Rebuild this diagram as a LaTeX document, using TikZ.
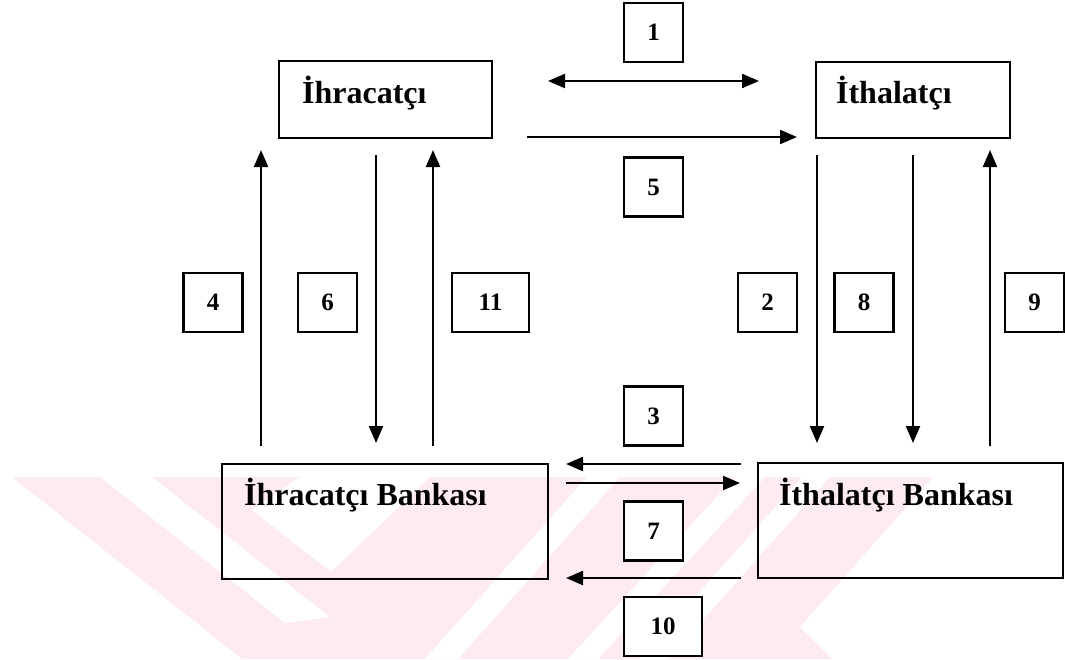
\documentclass[tikz,border=0pt]{standalone}
\usepackage{fontspec}
\setmainfont{Liberation Serif}
\usetikzlibrary{arrows.meta}
\definecolor{wm}{RGB}{253,235,239}
\begin{document}
\begin{tikzpicture}[x=1pt,y=-1pt,
  line width=2.2pt,
  numbox/.style={draw,fill=white,minimum width=59pt,minimum height=59pt,inner sep=0pt,
    font=\fontsize{25}{29}\selectfont\bfseries},
  bigbox/.style={draw,inner sep=0pt},
  lbl/.style={anchor=base west,inner sep=0pt,font=\fontsize{32}{37}\selectfont\bfseries},
  arr/.style={-{Triangle[length=17pt,width=14pt]}},
  darr/.style={{Triangle[length=17pt,width=14pt]}-{Triangle[length=17pt,width=14pt]}}]
\useasboundingbox (0,0) rectangle (1065,659);
% faint background watermark
\fill[wm] (12,477) -- (933,477) -- (800,627) -- (832,659) -- (242,659) -- cycle;
\fill[white] (100,477) -- (152,477) -- (330,617) -- (285,623) -- cycle;
\fill[white] (252,510) -- (331,572) -- (430,477) -- (300,477) -- cycle;
\fill[white] (425,659) -- (458,659) -- (620,477) -- (587,477) -- cycle;
\fill[white] (568,659) -- (598,659) -- (765,477) -- (735,477) -- cycle;
\fill[white] (640,659) -- (668,659) -- (830,477) -- (802,477) -- cycle;

% main boxes
\node[bigbox,minimum width=213pt,minimum height=77pt] (exp) at (385.5,99.5) {};
\node[bigbox,minimum width=194pt,minimum height=76pt] (imp) at (913,100) {};
\node[bigbox,minimum width=326pt,minimum height=115pt] (expb) at (385,521.5) {};
\node[bigbox,minimum width=305pt,minimum height=115pt] (impb) at (910.5,520.5) {};
\node[lbl] (expT) at (301,103) {İhracatçı};
\node[lbl] (impT) at (835,103) {İthalatçı};
\node[lbl] (expbT) at (243,505) {İhracatçı Bankası};
\node[lbl] (impbT) at (778,505) {İthalatçı Bankası};

% number boxes
\node[numbox] (n1) at (653.5,32.5) {1};
\node[numbox] (n5) at (653.5,187) {5};
\node[numbox] (n4) at (213,302.5) {4};
\node[numbox] (n6) at (327.5,302.5) {6};
\node[numbox,minimum width=77pt] (n11) at (490.5,302.5) {11};
\node[numbox] (n2) at (767.5,302.5) {2};
\node[numbox] (n8) at (864,302.5) {8};
\node[numbox] (n9) at (1034.5,302.5) {9};
\node[numbox] (n3) at (653.5,416) {3};
\node[numbox] (n7) at (653.5,531) {7};
\node[numbox,minimum width=78pt] (n10) at (663,626.5) {10};

% arrow end points
\coordinate (a1s) at (548,81);  \coordinate (a1e) at (759,81);
\coordinate (a5s) at (527,137); \coordinate (a5e) at (797,137);
\coordinate (a4s) at (261,446); \coordinate (a4e) at (261,150);
\coordinate (a6s) at (376,155); \coordinate (a6e) at (376,443);
\coordinate (a11s) at (433,446); \coordinate (a11e) at (433,150);
\coordinate (a2s) at (817,155); \coordinate (a2e) at (817,443);
\coordinate (a8s) at (913,155); \coordinate (a8e) at (913,443);
\coordinate (a9s) at (990,446); \coordinate (a9e) at (990,150);
\coordinate (a3s) at (741,464); \coordinate (a3e) at (566,464);
\coordinate (a7s) at (566,483); \coordinate (a7e) at (740,483);
\coordinate (a10s) at (741,578); \coordinate (a10e) at (566,578);

\draw[darr] (a1s) -- (a1e);
\draw[arr] (a5s) -- (a5e);
\draw[arr] (a4s) -- (a4e);
\draw[arr] (a6s) -- (a6e);
\draw[arr] (a11s) -- (a11e);
\draw[arr] (a2s) -- (a2e);
\draw[arr] (a8s) -- (a8e);
\draw[arr] (a9s) -- (a9e);
\draw[arr] (a3s) -- (a3e);
\draw[arr] (a7s) -- (a7e);
\draw[arr] (a10s) -- (a10e);
\end{tikzpicture}
\end{document}
